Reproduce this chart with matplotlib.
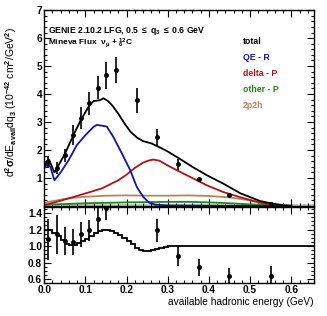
import numpy as np
import matplotlib
matplotlib.use("Agg")
import matplotlib.pyplot as plt
from matplotlib.ticker import MultipleLocator

plt.rcParams['font.family'] = ['Liberation Sans', 'DejaVu Sans']
plt.rcParams['font.weight'] = 'bold'
plt.rcParams['mathtext.fontset'] = 'custom'
plt.rcParams['mathtext.rm'] = 'Liberation Sans:bold'
plt.rcParams['mathtext.it'] = 'Liberation Sans:bold'
plt.rcParams['mathtext.bf'] = 'Liberation Sans:bold'
plt.rcParams['mathtext.default'] = 'rm'

# data points (top panel)
data_x = [0.01, 0.03, 0.05, 0.07, 0.09, 0.11, 0.13, 0.15, 0.175, 0.225, 0.275, 0.325, 0.375, 0.45, 0.55]
data_y = [1.57, 1.36, 1.81, 2.53, 3.16, 3.67, 4.23, 4.67, 4.86, 3.78, 2.45, 1.49, 0.95, 0.38, 0.09]
data_err = [0.22, 0.22, 0.24, 0.36, 0.39, 0.42, 0.42, 0.48, 0.47, 0.45, 0.31, 0.20, 0.10, 0.04, 0.03]

# model curves
total_x = [0.0, 0.006, 0.012, 0.025, 0.05, 0.07, 0.09, 0.11, 0.12, 0.135, 0.144, 0.155, 0.165, 0.18,
           0.195, 0.21, 0.225, 0.24, 0.26, 0.28, 0.3, 0.33, 0.36, 0.395, 0.435, 0.477, 0.5, 0.524,
           0.553, 0.58, 0.6]
total_y = [1.4, 1.6, 1.65, 1.2, 1.85, 2.5, 3.1, 3.6, 3.75, 3.78, 3.85, 3.75, 3.6, 3.3,
           2.95, 2.65, 2.45, 2.32, 2.24, 2.1, 1.95, 1.68, 1.4, 1.1, 0.8, 0.45, 0.32, 0.18,
           0.09, 0.03, 0.01]

qe_x = [0.0, 0.008, 0.015, 0.025, 0.04, 0.059, 0.079, 0.1, 0.12, 0.128, 0.144, 0.152, 0.168, 0.189,
        0.209, 0.225, 0.241, 0.255, 0.27, 0.3, 0.4, 0.6]
qe_y = [1.35, 1.5, 1.4, 0.92, 1.2, 1.63, 2.17, 2.53, 2.83, 2.9, 2.86, 2.84, 2.47, 1.87,
        1.28, 0.68, 0.32, 0.12, 0.05, 0.02, 0.01, 0.0]

delta_x = [0.0, 0.03, 0.059, 0.1, 0.14, 0.18, 0.2, 0.22, 0.24, 0.255, 0.265, 0.28, 0.3, 0.33, 0.36,
           0.395, 0.435, 0.475, 0.524, 0.556, 0.6]
delta_y = [0.03, 0.15, 0.27, 0.45, 0.63, 0.92, 1.12, 1.36, 1.55, 1.63, 1.66, 1.62, 1.45, 1.22, 1.0,
           0.74, 0.5, 0.32, 0.12, 0.03, 0.0]

other_x = [0.0, 0.05, 0.1, 0.2, 0.3, 0.35, 0.4, 0.45, 0.5, 0.55, 0.6]
other_y = [0.05, 0.07, 0.1, 0.13, 0.15, 0.15, 0.13, 0.1, 0.06, 0.02, 0.0]

mec_x = [0.0, 0.03, 0.06, 0.1, 0.15, 0.2, 0.25, 0.3, 0.35, 0.4, 0.45, 0.5, 0.524, 0.556, 0.6]
mec_y = [0.12, 0.2, 0.28, 0.33, 0.37, 0.38, 0.37, 0.37, 0.38, 0.36, 0.31, 0.2, 0.12, 0.03, 0.0]

# ratio panel
ratio_x = [0.01, 0.03, 0.05, 0.07, 0.09, 0.11, 0.13, 0.15, 0.275, 0.325, 0.375, 0.45, 0.55]
ratio_y = [1.08, 1.14, 1.06, 1.05, 1.14, 1.19, 1.33, 1.46, 1.19, 0.88, 0.74, 0.64, 0.64]
ratio_err = [0.25, 0.24, 0.17, 0.16, 0.15, 0.13, 0.14, 0.15, 0.14, 0.12, 0.10, 0.09, 0.12]

ratio_edges = [0.0, 0.01, 0.02, 0.03, 0.04, 0.05, 0.06, 0.07, 0.08, 0.09, 0.10, 0.11, 0.12, 0.13, 0.14,
               0.15, 0.16, 0.17, 0.18, 0.19, 0.20, 0.21, 0.22, 0.23, 0.24, 0.25, 0.26, 0.27, 0.28, 0.29,
               0.30, 0.66]
ratio_line = [1.19, 1.2, 1.16, 1.12, 1.07, 1.03, 1.01, 1.01, 1.04, 1.06, 1.08, 1.12, 1.16, 1.18,
              1.19, 1.19, 1.18, 1.16, 1.13, 1.1, 1.06, 1.02, 0.98, 0.95, 0.94, 0.94, 0.95, 0.96,
              0.98, 0.99, 1.0]

c_qe = '#1414a8'
c_delta = '#b01414'
c_other = '#1a8a1a'
c_mec = '#b08a5a'

fig = plt.figure(figsize=(3.27, 3.16), dpi=100)
ax1 = fig.add_axes([0.135, 0.348, 0.825, 0.62])
ax2 = fig.add_axes([0.135, 0.104, 0.825, 0.240])

ax1.fill_between([0, 0.66], 0, 0.07, color='#c8c8c8', lw=0)
ax1.plot(mec_x, mec_y, color=c_mec, lw=1.3)
ax1.plot(other_x, other_y, color=c_other, lw=1.3)
ax1.plot(delta_x, delta_y, color=c_delta, lw=1.3)
ax1.plot(qe_x, qe_y, color=c_qe, lw=1.3)
ax1.plot(total_x, total_y, color='black', lw=1.3)
ax1.errorbar(data_x, data_y, yerr=data_err, fmt='o', color='black', ms=2.5, elinewidth=1.2, capsize=0)

ax1.set_xlim(0, 0.655)
ax1.set_ylim(0, 7)
ax1.set_xticklabels([])
ax1.set_ylabel(r'd$^{2}\sigma$/dE$_{avail}$dq$_{3}$ (10$^{-42}$ cm$^{2}$/GeV$^{2}$)', fontsize=7.5)
ax1.yaxis.set_label_coords(-0.095, 0.53)

ax1.text(0.01, 6.25, r'GENIE 2.10.2 LFG, 0.5 $\leq$ q$_{3}$ $\leq$ 0.6 GeV', fontsize=6.2, va='center')
ax1.text(0.01, 5.8, r'Mineva Flux  $\nu_{\mu}$ + $^{12}_{6}$C', fontsize=6.0, va='center')

leg_names = ['total', 'QE - R', 'delta - P', 'other - P', '2p2h']
leg_colors = ['black', c_qe, c_delta, c_other, c_mec]
for i in range(len(leg_names)):
    ax1.text(0.482, 5.88 - i * 0.575, leg_names[i], color=leg_colors[i], fontsize=6.3, va='center')

ax2.stairs(ratio_line, ratio_edges, color='black', lw=1.3)
ax2.errorbar(ratio_x, ratio_y, yerr=ratio_err, fmt='o', color='black', ms=2.5, elinewidth=1.2, capsize=0)
ax2.set_xlim(0, 0.655)
ax2.set_ylim(0.55, 1.47)
ax2.set_xlabel('available hadronic energy (GeV)', fontsize=7.3, loc='right', labelpad=1)
ax2.set_yticks([0.6, 0.8, 1.0, 1.2, 1.4])
ax2.set_yticklabels(['0.6', '0.8', '1.0', '1.2', '1.4'])

for ax in (ax1, ax2):
    ax.xaxis.set_major_locator(MultipleLocator(0.1))
    ax.xaxis.set_minor_locator(MultipleLocator(0.02))
    ax.tick_params(which='both', direction='in', top=True, right=True, labelsize=7.3, pad=1.5, width=0.8)
    ax.tick_params(which='major', length=5)
    ax.tick_params(which='minor', length=2.5)
    for s in ax.spines.values():
        s.set_linewidth(1.0)
ax1.set_yticks([1, 2, 3, 4, 5, 6, 7])
ax1.yaxis.set_minor_locator(MultipleLocator(0.2))
ax2.yaxis.set_minor_locator(MultipleLocator(0.05))

fig.savefig('out.png', dpi=100)
